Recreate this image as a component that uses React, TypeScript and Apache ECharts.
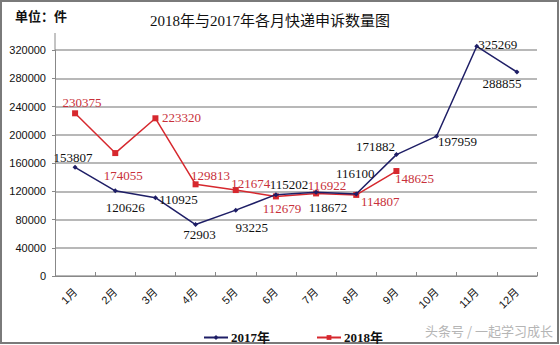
import React, { useEffect, useRef } from "react";
import * as echarts from "echarts";

const months = ["1月", "2月", "3月", "4月", "5月", "6月", "7月", "8月", "9月", "10月", "11月", "12月"];
const values2017 = [153807, 120626, 110925, 72903, 93225, 115202, 118672, 116100, 171882, 197959, 325269, 288855];
const values2018 = [230375, 174055, 223320, 129813, 121674, 112679, 116922, 114807, 148625];
const yTicks = { min: 0, max: 320000, interval: 40000 };

// label offsets (style only): [dx, dy] from each point to its label centre
const labelOffsets2017 = [[-2, -10], [10, 17], [23, 2], [4, 10], [16, 17], [13, -10], [12, 15], [-1, -21], [-21, -8], [21, 5], [21, -2], [-15, 12]];
const labelOffsets2018 = [[7, -11], [8, 22], [26, -1], [15, -9], [15, -7], [6, 12], [11, -8], [24, 7], [18, 7]];

const NAVY = "#1e1e66";
const RED = "#d6282e";
const RED_LABEL = "#c8303a";

export default function App() {
  const ref = useRef<HTMLDivElement>(null);
  useEffect(() => {
    if (!ref.current) return;
    const chart = echarts.init(ref.current, null, { renderer: "svg" });
    const mk = (vals: number[], offs: number[][], color: string) =>
      vals.map((v, i) => ({
        value: v,
        label: {
          show: true,
          position: "inside",
          offset: offs[i],
          color,
          fontFamily: "Liberation Serif",
          fontSize: 13,
        },
      }));
    chart.setOption({
      animation: false,
      backgroundColor: "#ffffff",
      title: {
        text: "2018年与2017年各月快递申诉数量图",
        left: 265,
        textAlign: "center",
        top: 8,
        textStyle: {
          fontFamily: "Liberation Serif, Noto Sans CJK SC",
          fontSize: 15,
          fontWeight: "normal",
          color: "#111",
        },
      },
      graphic: [
        {
          type: "rect",
          shape: { x: 1, y: 1, width: 557, height: 342 },
          style: { fill: "none", stroke: "#7a7a7a", lineWidth: 2 },
          silent: true,
        },
        {
          type: "text",
          left: 15,
          top: 9,
          style: {
            text: "单位：件",
            fontFamily: "Noto Sans CJK SC",
            fontSize: 13,
            fontWeight: "bold",
            fill: "#111",
          },
        },
        {
          type: "line",
          shape: { x1: 55, y1: 33, x2: 55, y2: 50 },
          style: { stroke: "#888", lineWidth: 1 },
        },
        {
          type: "text",
          left: 425,
          top: 324,
          style: {
            text: "头条号 / 一起学习成长",
            fontFamily: "Noto Sans CJK SC",
            fontSize: 13,
            fill: "#b5b5b5",
          },
        },
      ],
      legend: {
        left: 198,
        top: 326,
        itemGap: 46,
        itemWidth: 24,
        itemHeight: 6,
        textStyle: {
          fontFamily: "Liberation Serif, Noto Sans CJK SC",
          fontSize: 13,
          fontWeight: "bold",
          color: "#111",
          padding: [0, 0, 0, -2],
        },
        data: ["2017年", "2018年"],
      },
      grid: { left: 55, right: 23, top: 50, bottom: 69 },
      xAxis: {
        type: "category",
        data: months,
        boundaryGap: true,
        axisLine: { lineStyle: { color: "#888", width: 1 } },
        axisTick: { show: true, inside: true, length: 4, lineStyle: { color: "#888" } },
        axisLabel: {
          rotate: 45,
          margin: 14,
          fontFamily: "Liberation Sans, Noto Sans CJK SC",
          fontSize: 11,
          color: "#111",
        },
      },
      yAxis: {
        type: "value",
        min: yTicks.min,
        max: yTicks.max,
        interval: yTicks.interval,
        axisLine: { show: true, lineStyle: { color: "#888", width: 1 } },
        axisTick: { show: true, length: 3, lineStyle: { color: "#888" } },
        axisLabel: {
          margin: 9,
          fontFamily: "Liberation Sans",
          fontSize: 11,
          color: "#111",
          formatter: (v: number) => String(v),
        },
        splitLine: { show: true, lineStyle: { color: "#a0a0a0", width: 1.5 } },
      },
      series: [
        {
          name: "2017年",
          type: "line",
          data: mk(values2017, labelOffsets2017, "#111"),
          symbol: "diamond",
          symbolSize: 5,
          clip: false,
          itemStyle: { color: NAVY },
          lineStyle: { color: NAVY, width: 1.5 },
          z: 3,
        },
        {
          name: "2018年",
          type: "line",
          data: mk(values2018, labelOffsets2018, RED_LABEL),
          symbol: "rect",
          symbolSize: 6,
          clip: false,
          itemStyle: { color: RED },
          lineStyle: { color: RED, width: 1.5 },
          z: 2,
        },
      ],
    });
    return () => chart.dispose();
  }, []);
  return <div ref={ref} style={{ position: "fixed", left: 0, top: 0, width: 560, height: 345 }} />;
}
